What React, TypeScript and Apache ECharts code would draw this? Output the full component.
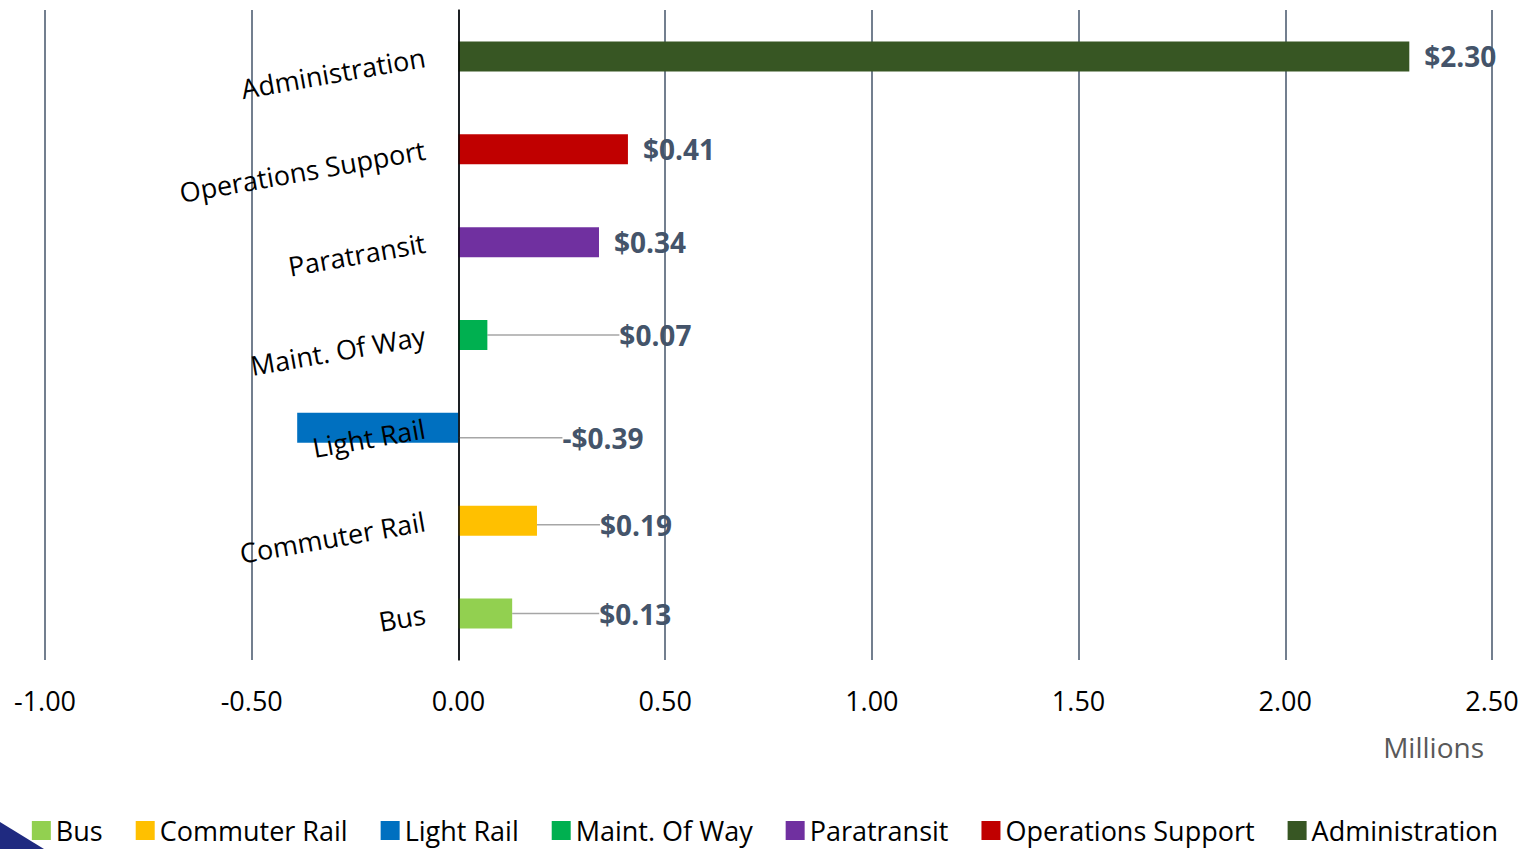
import React, { useEffect, useRef } from "react";
import * as echarts from "echarts";

const categories = ["Bus", "Commuter Rail", "Light Rail", "Maint. Of Way", "Paratransit", "Operations Support", "Administration"];
const values = [0.13, 0.19, -0.39, 0.07, 0.34, 0.41, 2.3];
const colors = ["#92D050", "#FFC000", "#0070C0", "#00B050", "#7030A0", "#C00000", "#375623"];
const xTicks = { min: -1, max: 2.5, interval: 0.5 };
const labelShift = [
  [72, 0],
  [48, 4],
  [89, 10],
  [117, 0],
  [0, 0],
  [0, 0],
  [0, 0],
];

const FONT = "Open Sans";

export default function App() {
  const ref = useRef<HTMLDivElement>(null);
  useEffect(() => {
    const chart = echarts.init(ref.current!, null, { renderer: "svg" });
    const series = categories.map((name, i) => ({
      name,
      type: "bar",
      stack: "total",
      barWidth: 30,
      z: 2,
      itemStyle: { color: colors[i] },
      data: categories.map((_, j) => (j === i ? values[i] : null)),
      label: {
        show: true,
        position: "right",
        distance: 15,
        fontFamily: FONT,
        fontWeight: "bold",
        fontSize: 28,
        color: "#44546A",
        formatter: (p: any) => {
          const v = p.value as number;
          return (v < 0 ? "-$" : "$") + Math.abs(v).toFixed(2);
        },
      },
      labelLine: {
        show: labelShift[i][0] !== 0,
        lineStyle: { color: "#A6A6A6", width: 1.5 },
      },
      labelLayout: labelShift[i][0] !== 0 ? { dx: labelShift[i][0], dy: labelShift[i][1] } : undefined,
    }));
    chart.setOption({
      animation: false,
      grid: { left: 45, right: 38, top: 10, bottom: 189, containLabel: false, outerBoundsMode: "none" },
      legend: {
        bottom: 0,
        left: "center",
        itemWidth: 19,
        itemHeight: 19,
        itemGap: 33,
        icon: "rect",
        textStyle: { fontFamily: FONT, fontSize: 27, color: "#000000" },
        data: categories,
      },
      xAxis: {
        type: "value",
        min: xTicks.min,
        max: xTicks.max,
        interval: xTicks.interval,
        axisLine: { show: false },
        axisTick: { show: false },
        splitLine: { show: true, lineStyle: { color: "#44546A", width: 1.5 } },
        axisLabel: {
          fontFamily: FONT,
          fontSize: 27,
          color: "#000000",
          margin: 27,
          formatter: (v: number) => v.toFixed(2),
        },
      },
      yAxis: {
        type: "category",
        data: categories,
        z: 5,
        axisLine: { show: true, onZero: true, lineStyle: { color: "#000000", width: 1.5 } },
        axisTick: { show: false },
        splitLine: { show: false },
        axisLabel: {
          fontFamily: FONT,
          fontSize: 27,
          color: "#000000",
          rotate: 10,
          margin: -380,
        },
      },
      graphic: [
        {
          type: "text",
          right: 46,
          top: 733,
          style: { text: "Millions", fontFamily: FONT, fontSize: 28, fill: "#595959" },
        },
        {
          type: "polygon",
          shape: { points: [[0, 822], [44, 849], [0, 849]] },
          style: { fill: "#1F2A80" },
        },
      ],
      series,
    });
    return () => chart.dispose();
  }, []);
  return <div ref={ref} style={{ width: 1530, height: 849, position: "absolute", left: 0, top: 0 }} />;
}
